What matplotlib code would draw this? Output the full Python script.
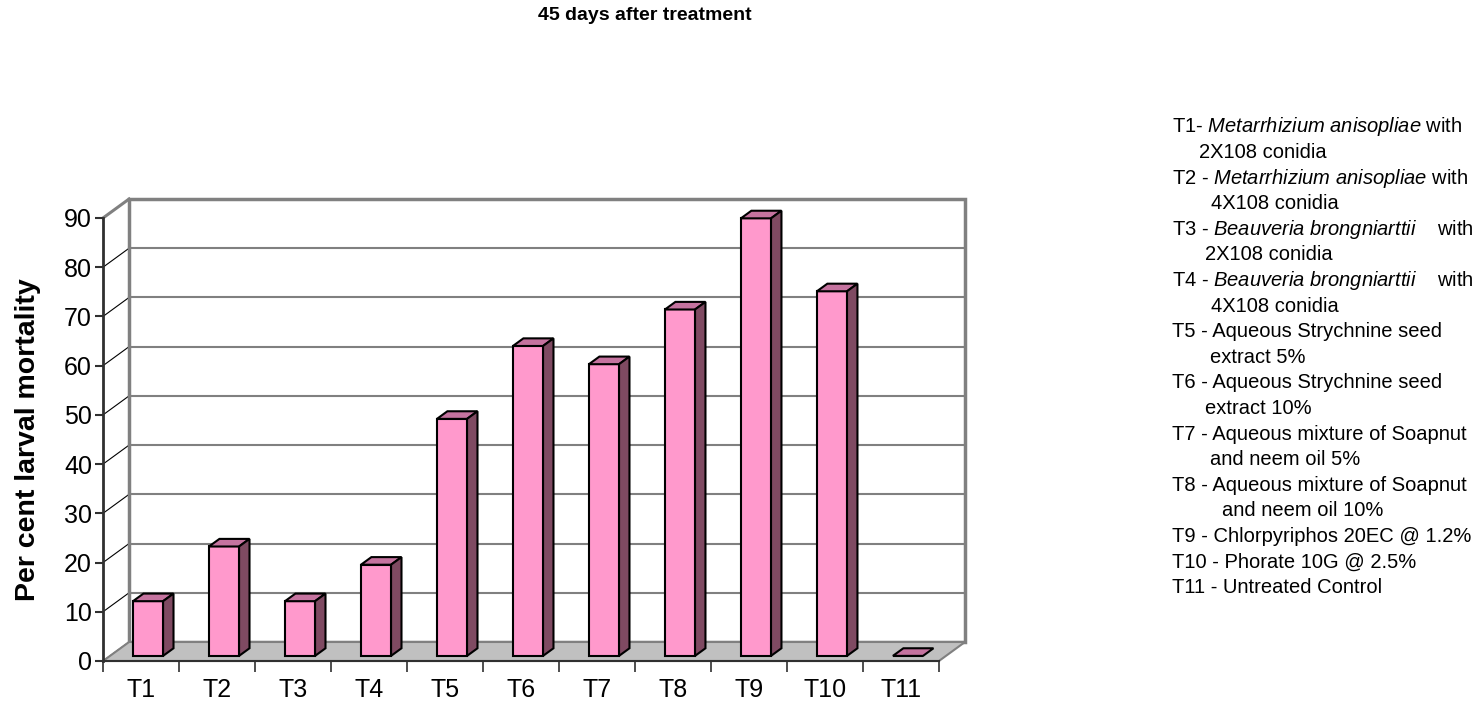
import matplotlib
matplotlib.use("Agg")
import matplotlib.pyplot as plt
from matplotlib.patches import Polygon, Rectangle

plt.rcParams['font.family'] = ['Liberation Sans', 'DejaVu Sans']
plt.rcParams['mathtext.fontset'] = 'custom'
plt.rcParams['mathtext.rm'] = 'Liberation Sans'
plt.rcParams['mathtext.it'] = 'Liberation Sans:italic'

treatments = ["T1", "T2", "T3", "T4", "T5", "T6", "T7", "T8", "T9", "T10", "T11"]
mortality = [11.11, 22.22, 11.11, 18.52, 48.15, 62.96, 59.26, 70.37, 88.89, 74.07, 0.0]
y_ticks = [0, 10, 20, 30, 40, 50, 60, 70, 80, 90]

# key text: (line, indent in px from the left edge of the key)
key_lines = [
    (r"T1- $\it{Metarrhizium\ anisopliae}$ with", 0),
    ("2X108 conidia", 27),
    (r"T2 - $\it{Metarrhizium\ anisopliae}$ with", 0),
    ("4X108 conidia", 39),
    (r"T3 - $\it{Beauveria\ brongniarttii}$    with", 0),
    ("2X108 conidia", 33),
    (r"T4 - $\it{Beauveria\ brongniarttii}$    with", 0),
    ("4X108 conidia", 39),
    ("T5 - Aqueous Strychnine seed", 0),
    ("extract 5%", 38),
    ("T6 - Aqueous Strychnine seed", 0),
    ("extract 10%", 33),
    ("T7 - Aqueous mixture of Soapnut", 0),
    ("and neem oil 5%", 38),
    ("T8 - Aqueous mixture of Soapnut", 0),
    ("and neem oil 10%", 50),
    ("T9 - Chlorpyriphos 20EC @ 1.2%", 0),
    ("T10 - Phorate 10G @ 2.5%", 0),
    ("T11 - Untreated Control", 0),
]

W, H = 1480, 710
fig = plt.figure(figsize=(W / 100, H / 100), dpi=100)

# depth of the pseudo-3D box, in data units
ddx, ddy = 0.343, 3.86
n = len(treatments)
ymax = 90

ax = fig.add_axes([103 / W, 49 / H, (965 - 103) / W, 462 / H])
ax.set_xlim(0, n + ddx)
ax.set_ylim(0, ymax + ddy)

wall = "#808080"

# floor
floor = Polygon([(0, 0), (n, 0), (n + ddx, ddy), (ddx, ddy)], closed=True,
                facecolor="#c0c0c0", edgecolor=wall, lw=1.5, zorder=1, clip_on=False)
ax.add_patch(floor)

# back wall gridlines and side-wall diagonals
for v in y_ticks[1:-1]:
    ax.plot([ddx, n + ddx], [v + ddy, v + ddy], color=wall, lw=1.5, zorder=0.5)
for v in y_ticks[:-1]:
    ax.plot([0, ddx], [v, v + ddy], color="black", lw=0.8, zorder=0.5)
ax.plot([0, ddx], [ymax, ymax + ddy], color=wall, lw=2.2, zorder=0.5, clip_on=False)
ax.add_patch(Rectangle((ddx, ddy), n, ymax, fill=False, edgecolor=wall, lw=2.5,
                       zorder=0.6, clip_on=False))

# bars: front face plus top and side faces
w = 0.396
f0 = 0.27
d = 0.40
front_c, top_c, side_c = "#ff99cc", "#c5739f", "#7f4a62"
xs = [i + 0.5 + f0 * ddx for i in range(n)]
base = f0 * ddy
ax.bar(xs, mortality, width=w, bottom=base, color=front_c, edgecolor="black",
       lw=1.5, zorder=3)
for x, v in zip(xs, mortality):
    x0, x1 = x - w / 2, x + w / 2
    y1 = base + v
    top = Polygon([(x0, y1), (x1, y1), (x1 + d * ddx, y1 + d * ddy), (x0 + d * ddx, y1 + d * ddy)],
                  closed=True, facecolor=top_c, edgecolor="black", lw=1.5, zorder=3)
    ax.add_patch(top)
    if v > 0:
        side = Polygon([(x1, base), (x1 + d * ddx, base + d * ddy),
                        (x1 + d * ddx, y1 + d * ddy), (x1, y1)],
                       closed=True, facecolor=side_c, edgecolor="black", lw=1.5, zorder=3)
        ax.add_patch(side)

# axes
for s in ["top", "right"]:
    ax.spines[s].set_visible(False)
ax.spines["left"].set_bounds(0, ymax)
ax.spines["bottom"].set_bounds(0, n)
ax.spines["left"].set_linewidth(2)
ax.spines["bottom"].set_linewidth(1.5)
ax.spines["left"].set_color("#303030")
ax.spines["bottom"].set_color("#303030")
ax.spines["left"].set_zorder(4)

ax.set_yticks(y_ticks)
ax.set_yticklabels([str(t) for t in y_ticks], fontsize=18)
ax.tick_params(axis="y", length=6, width=1.5, pad=2, color="#303030")
ax.set_xticks(range(n + 1))
ax.set_xticklabels([])
ax.set_xticks([i + 0.5 for i in range(n)], minor=True)
ax.set_xticklabels(treatments, minor=True, fontsize=18)
ax.tick_params(axis="x", which="major", length=8, width=1.2, color="#303030")
ax.tick_params(axis="x", which="minor", length=0, pad=12)

fig.text(28 / W, 1 - 440 / H, "Per cent larval mortality", rotation=90,
         fontsize=20.5, fontweight="bold", ha="center", va="center")
fig.text(645 / W, 1 - 15 / H, "45 days after treatment", fontsize=14,
         fontweight="bold", ha="center", va="center")

# treatment key
for k, (txt, ind) in enumerate(key_lines):
    y = 127 + k * 25.6
    fig.text((1172 + ind) / W, 1 - y / H, txt, fontsize=14.5, ha="left", va="center")

fig.savefig("out.png", dpi=100)
